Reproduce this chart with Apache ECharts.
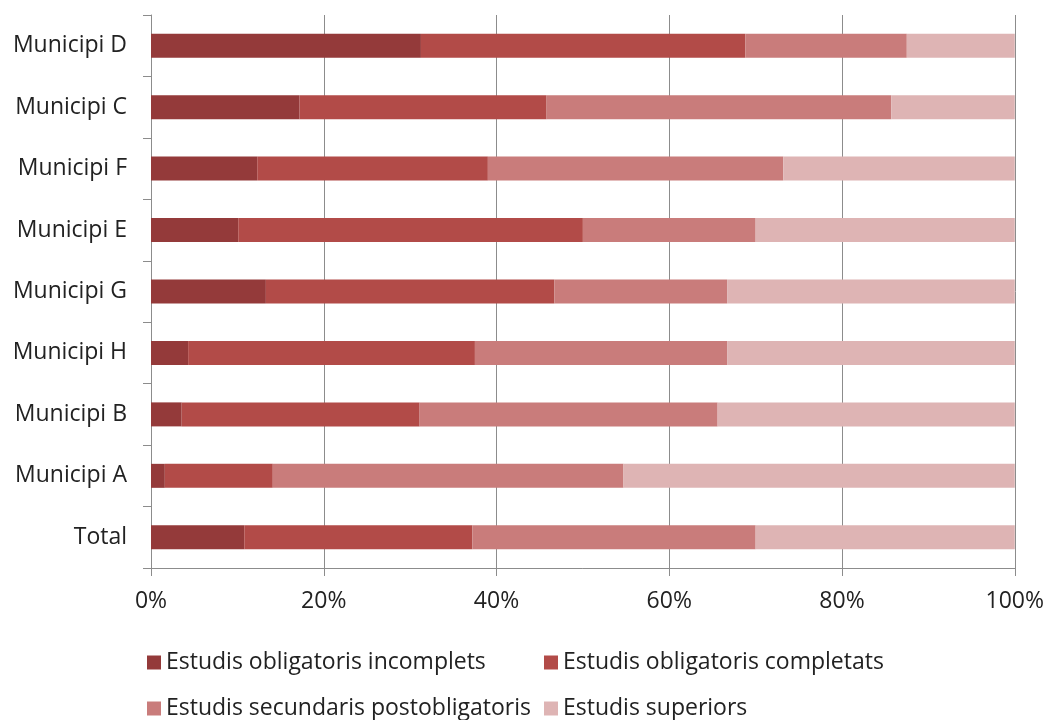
<!DOCTYPE html>
<html>
<head>
<meta charset="utf-8">
<script src="https://cdn.jsdelivr.net/npm/echarts@6/dist/echarts.min.js"></script>
<style>html,body{margin:0;padding:0;background:#fff}#c{width:1047px;height:720px}</style>
</head>
<body>
<div id="c"></div>
<script>
const categories = ['Municipi D','Municipi C','Municipi F','Municipi E','Municipi G','Municipi H','Municipi B','Municipi A','Total'];
const seriesNames = ['Estudis obligatoris incomplets','Estudis obligatoris completats','Estudis secundaris postobligatoris','Estudis superiors'];
const incomplets   = [31.25, 17.2, 12.3, 10.1, 13.3, 4.3, 3.55, 1.6, 10.8];
const completats   = [37.55, 28.6, 26.7, 39.9, 33.4, 33.2, 27.55, 12.5, 26.4];
const postoblig    = [18.7, 39.9, 34.2, 20.0, 20.0, 29.2, 34.5, 40.6, 32.8];
const superiors    = [12.5, 14.3, 26.8, 30.0, 33.3, 33.3, 34.4, 45.3, 30.0];
const xTicks = [0, 20, 40, 60, 80, 100];
const colors = ['#943a3a', '#b24b48', '#c97c7b', '#deb4b4'];

const font = 'Open Sans';
const fs = 23;
const values = [incomplets, completats, postoblig, superiors];
const chart = echarts.init(document.getElementById('c'));
const legendPos = [[147, 651], [544, 651], [147, 697], [544, 697]];
chart.setOption({
  animation: false,
  color: colors,
  grid: {left: 151, right: 32, top: 15, bottom: 152},
  legend: seriesNames.map((n, i) => ({
    data: [n], left: legendPos[i][0], top: legendPos[i][1], padding: 0,
    icon: 'rect', itemWidth: 14, itemHeight: 14, itemGap: 0,
    textStyle: {fontFamily: font, fontSize: fs, color: '#222'}
  })),
  xAxis: {
    type: 'value', min: xTicks[0], max: xTicks[xTicks.length - 1], interval: 20,
    axisLine: {show: true, lineStyle: {color: '#8c8c8c'}},
    axisTick: {show: true, length: 8, lineStyle: {color: '#8c8c8c'}},
    splitLine: {show: true, lineStyle: {color: '#8c8c8c'}},
    axisLabel: {formatter: '{value}%', margin: 22, fontFamily: font, fontSize: fs, color: '#222'}
  },
  yAxis: {
    type: 'category', data: categories, inverse: true,
    axisLine: {show: true, lineStyle: {color: '#8c8c8c'}},
    axisTick: {show: true, length: 8, lineStyle: {color: '#8c8c8c'}},
    axisLabel: {margin: 24, fontFamily: font, fontSize: fs, color: '#222'}
  },
  series: seriesNames.map((n, i) => ({
    name: n, type: 'bar', stack: 'total', data: values[i], barWidth: 24
  }))
});
</script>
</body>
</html>
